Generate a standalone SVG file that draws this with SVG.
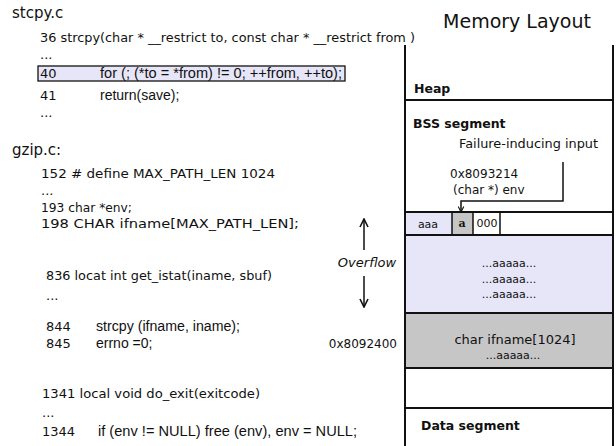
<svg xmlns="http://www.w3.org/2000/svg" width="616" height="446" viewBox="0 0 616 446">
<defs>
<style>
.l{font-family:"DejaVu Sans",sans-serif;font-size:13px;fill:#111}
.h{font-family:"Liberation Sans",Arial,sans-serif;font-size:14px;fill:#111}
.t{font-family:"DejaVu Sans",sans-serif;font-size:15px;fill:#111}
.b{font-family:"DejaVu Sans",sans-serif;font-size:12.5px;font-weight:bold;fill:#111}
.s{font-family:"DejaVu Sans",sans-serif;font-size:11px;fill:#111}
.r{font-family:"DejaVu Sans",sans-serif;font-size:12px;fill:#111}
.ln{stroke:#111;stroke-width:2;fill:none}
.thin{stroke:#111;stroke-width:1.5;fill:none}
.lav{fill:#e6e6f8}
.gr{fill:#c6c6c6}
</style>
<marker id="ah" viewBox="0 0 10 10" refX="9" refY="5" markerWidth="7" markerHeight="7" orient="auto" markerUnits="userSpaceOnUse">
<path d="M1,1 L9,5 L1,9" fill="none" stroke="#111" stroke-width="1.6"/>
</marker>
<marker id="ah2" viewBox="0 0 10 10" refX="9" refY="5" markerWidth="10" markerHeight="10" orient="auto" markerUnits="userSpaceOnUse">
<path d="M1,1 L9,5 L1,9" fill="none" stroke="#111" stroke-width="1.6"/>
</marker>
</defs>
<rect width="616" height="446" fill="#fff"/>

<g id="stcpy">
<text class="t" x="12" y="18">stcpy.c</text>
<text class="l" x="40" y="42" textLength="375" lengthAdjust="spacingAndGlyphs">36 strcpy(char * __restrict to, const char * __restrict from )</text>
<text class="l" x="40" y="59">...</text>
<rect x="38" y="66" width="307" height="15" fill="#e6e6f8" stroke="#111" stroke-width="1.3"/>
<text class="l" x="40" y="78">40</text>
<text class="h" x="100" y="78" textLength="242" lengthAdjust="spacingAndGlyphs">for (; (*to = *from) != 0; ++from, ++to);</text>
<text class="l" x="40" y="100">41</text>
<text class="h" x="100" y="100">return(save);</text>
<text class="l" x="40" y="117">...</text>
</g>

<g id="gzip">
<text class="t" x="12" y="155">gzip.c:</text>
<text class="l" x="41" y="178" textLength="234" lengthAdjust="spacingAndGlyphs">152 # define MAX_PATH_LEN 1024</text>
<text class="l" x="41" y="195">...</text>
<text class="l" x="41" y="212" textLength="91" lengthAdjust="spacingAndGlyphs">193 char *env;</text>
<text class="l" x="41" y="228" textLength="258" lengthAdjust="spacingAndGlyphs">198 CHAR ifname[MAX_PATH_LEN];</text>
<text class="l" x="46" y="280" textLength="226" lengthAdjust="spacingAndGlyphs">836 locat int get_istat(iname, sbuf)</text>
<text class="l" x="46" y="300">...</text>
<text class="l" x="46" y="331">844</text>
<text class="h" x="96" y="331" textLength="144" lengthAdjust="spacingAndGlyphs">strcpy (ifname, iname);</text>
<text class="l" x="46" y="348">845</text>
<text class="h" x="96" y="348">errno =0;</text>
<text class="l" x="42" y="398" textLength="218" lengthAdjust="spacingAndGlyphs">1341 local void do_exit(exitcode)</text>
<text class="l" x="42" y="417">...</text>
<text class="l" x="42" y="436">1344</text>
<text class="h" x="98" y="436" textLength="259" lengthAdjust="spacingAndGlyphs">if (env != NULL) free (env), env = NULL;</text>
</g>

<g id="memory">
<text x="517" y="28" text-anchor="middle" style="font-family:'DejaVu Sans',sans-serif;font-size:19px;fill:#111">Memory Layout</text>
<g id="heap">
<text class="b" x="414" y="93">Heap</text>
</g>
<g id="bss">
<text class="b" x="413" y="128">BSS segment</text>
<text class="r" x="459" y="148" textLength="139" lengthAdjust="spacingAndGlyphs">Failure-inducing input</text>
<text class="r" x="450" y="178">0x8093214</text>
<text class="r" x="453" y="194">(char *) env</text>
</g>
<g id="row">
<rect class="lav" x="405" y="212" width="47" height="23"/>
<rect class="gr" x="452" y="212" width="21" height="23"/>
<rect x="473" y="212" width="27" height="23" fill="#fff"/>
<text class="s" x="428" y="228" text-anchor="middle">aaa</text>
<text x="462" y="227" text-anchor="middle" style="font-family:'DejaVu Serif',serif;font-size:11px;font-weight:bold;fill:#111">a</text>
<text class="s" x="487" y="227" text-anchor="middle">000</text>
<path class="thin" d="M452,212 V235 M473,212 V235 M500,212 V235"/>
</g>
<g id="overflow-region">
<rect class="lav" x="405" y="235" width="208" height="78"/>
<text class="s" x="509" y="267" text-anchor="middle">...aaaaa...</text>
<text class="s" x="509" y="283" text-anchor="middle">...aaaaa...</text>
<text class="s" x="509" y="298" text-anchor="middle">...aaaaa...</text>
</g>
<g id="ifname">
<rect class="gr" x="405" y="313" width="208" height="55"/>
<text x="515" y="344" text-anchor="middle" style="font-family:'DejaVu Sans',sans-serif;font-size:13px;fill:#111">char ifname[1024]</text>
<text class="s" x="513" y="359" text-anchor="middle">...aaaaa...</text>
</g>
<g id="data">
<text class="b" x="421" y="430">Data segment</text>
</g>
<path class="ln" d="M405,45 V446 M613,45 V446 M405,100 H613 M405,212 H613 M405,235 H613 M405,313 H613 M405,368 H613 M405,408 H613"/>
<text x="367" y="267" text-anchor="middle" style="font-family:'DejaVu Sans',sans-serif;font-size:13px;font-style:italic;fill:#111">Overflow</text>
<text class="r" x="397" y="348" text-anchor="end">0x8092400</text>
</g>

<g id="connectors">
<polyline class="thin" points="563,162 563,201 461,201 461,212" marker-end="url(#ah)"/>
<line class="thin" x1="364" y1="250" x2="364" y2="219" marker-end="url(#ah2)"/>
<line class="thin" x1="364" y1="276" x2="364" y2="307" marker-end="url(#ah2)"/>
</g>
</svg>
